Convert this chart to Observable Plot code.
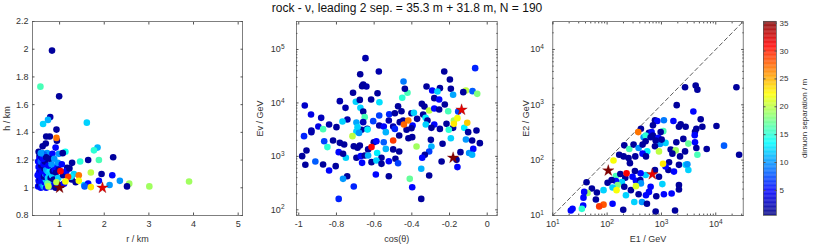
<!DOCTYPE html>
<html><head><meta charset="utf-8">
<script src="https://cdn.jsdelivr.net/npm/d3@7"></script>
<script src="https://cdn.jsdelivr.net/npm/@observablehq/plot@0.6"></script>
<style>
body{margin:0;background:#fff;}
#wrap{position:relative;width:814px;height:244px;overflow:hidden;font-family:"Liberation Sans",Arial,sans-serif;}
#wrap svg{position:absolute;top:0;}
#title{position:absolute;top:1px;left:0;width:814px;text-align:center;font-size:12px;color:#111;white-space:pre;}
</style></head><body><div id="wrap"><div id="title"></div></div>
<script>
const titleText = "rock - ν, leading 2 sep. = 35.3 m + 31.8 m, N = 190";

// panel 1: [r (km), h (km), separation (m)]
const rh = [
[0.83,1.99,1.5],[0.57,1.73,16],[0.99,1.66,1.5],[0.79,1.51,2],[0.74,1.49,11],[0.63,1.46,12],[1.61,1.47,12],[0.93,1.42,1.5],[0.70,1.37,1.5],[0.78,1.37,1.5],[0.94,1.34,1.5],[0.69,1.32,1.5],[0.91,1.29,5],[0.61,1.25,10],[0.72,1.25,10],[0.84,1.245,5],[0.985,1.245,10],[1.13,1.26,14],[1.07,1.25,1.5],[1.85,1.29,11],[1.77,1.27,15],[0.55,1.23,1.5],[1.28,1.18,1.5],[1.46,1.19,15],[1.64,1.20,1.5],[1.88,1.20,16],[2.20,1.22,1.5],[1.17,1.145,1.5],[1.32,1.10,12],[1.70,1.11,20],[1.94,1.10,1.5],[2.18,1.09,5],[2.35,1.05,10],[2.56,1.03,19],[3.01,1.01,19],[3.90,1.045,19],[2.51,1.01,1.5],[1.27,1.06,1.5],[1.36,1.04,1.5],[1.55,1.02,12],[1.64,1.03,5],[1.88,1.05,5],[2.12,1.02,10],[0.72,1.02,18],[1.56,1.01,8],
[0.52,1.01,5],[0.55,1.02,1.5],[0.58,1.00,5],[0.60,1.03,8],[0.53,1.05,5],[0.56,1.07,1.5],[0.59,1.06,5],[0.62,1.08,5],[0.51,1.09,5],[0.54,1.11,5],[0.57,1.13,1.5],[0.60,1.12,5],[0.53,1.15,5],[0.56,1.17,5],[0.59,1.16,1.5],[0.52,1.19,5],[0.55,1.21,5],[0.58,1.19,8],[0.53,1.26,1.5],[0.60,1.22,1.5],[0.64,1.01,10],[0.67,1.02,12],[0.70,1.00,5],[0.66,1.04,5],[0.69,1.06,12],[0.72,1.04,11],[0.65,1.08,1.5],[0.68,1.10,10],[0.71,1.09,5],[0.74,1.07,12],[0.63,1.12,5],[0.66,1.14,1.5],[0.70,1.13,10],[0.73,1.12,11],[0.76,1.11,12],[0.64,1.17,5],[0.67,1.19,1.5],[0.62,1.21,5],[0.65,1.24,8],[0.78,1.03,10],[0.81,1.01,5],[0.84,1.04,10],[0.80,1.07,1.5],[0.83,1.09,12],[0.87,1.06,1.5],[0.79,1.13,13],[0.85,1.12,1.5],[0.89,1.13,5],[0.92,1.11,1.5],[0.88,1.02,5],[0.91,1.00,1.5],[0.95,1.03,5],[0.97,1.07,12],[0.93,1.15,5],[0.98,1.13,1.5],[0.96,1.18,10],[0.75,1.16,5],[0.82,1.17,10],[0.77,1.21,1.5],[0.70,1.22,1.5],[0.62,1.30,1.5],[0.58,1.25,10],[0.88,1.21,10],[1.05,1.02,1.5],[1.10,1.03,5],[1.08,1.09,1.5],[1.15,1.12,5],[1.22,1.14,1.5],[1.25,1.08,13],[1.05,1.17,5],[0.73,1.03,17],[0.75,1.01,20],
[0.93,1.36,27],[1.02,1.12,31],[1.19,1.08,29],[1.43,1.09,27],[1.43,1.05,22],[1.13,1.045,22],[0.93,1.04,20],[1.70,1.005,23]
];

// panel 2: [cos(theta), Ev (GeV), separation (m)]
const cosEv = [
[-0.646,68900,2],[-0.575,38700,2],[-0.674,34500,1.5],[-0.658,22100,1.5],[-0.641,20300,2],[-0.664,20600,1.5],[-0.712,15500,1.5],[-0.582,15200,1.5],[-0.782,10800,2],[-0.697,10500,12],[-0.676,11400,1.5],[-0.616,11600,1.5],[-0.572,10300,12.5],[-0.968,8960,3],[-0.752,8090,2],[-0.673,8090,12],[-0.658,6920,1.5],[-0.935,6080,4],[-0.881,5260,2.5],[-0.650,5420,16],[-0.742,4900,2],[-0.768,4500,12],[-0.694,4310,10.5],[-0.658,4370,2.5],[-0.605,4560,7],[-0.573,5820,7],[-0.520,6160,6],[-0.490,6430,1.5],[-0.839,3950,2],[-0.896,3620,4],[-0.800,3520,1.5],[-0.573,3780,2],[-0.549,3620,5],[-0.522,4690,2],[-0.499,3620,2],[-0.871,3230,16],[-0.933,3050,2],[-0.637,3270,2],[-0.667,3140,1.5],
[-0.064,44800,6],[-0.228,38700,1.5],[-0.198,27500,1.5],[-0.444,25200,9],[-0.322,20300,1.5],[-0.251,18900,1.5],[-0.292,17100,5],[-0.264,16400,12],[-0.193,18400,1.5],[-0.423,15500,16],[-0.437,18400,1.5],[-0.113,17100,20],[-0.127,15900,1.5],[-0.078,16600,8],[-0.053,14800,18],[-0.181,14200,10.5],[-0.451,12500,15],[-0.281,12300,1.5],[-0.255,11600,5],[-0.225,9350,1.5],[-0.347,9620,1.5],[-0.333,8570,1.5],[-0.473,8690,1.5],[-0.455,7010,1.5],[-0.308,7210,20],[-0.281,7870,5],[-0.255,7540,1.5],[-0.207,7010,16],[-0.154,6920,7],[-0.402,6430,1.5],[-0.389,6530,12],[-0.372,5040,1.5],[-0.340,6080,1.5],[-0.327,5260,13],[-0.317,4690,1.5],[-0.446,4690,1.5],[-0.464,4370,1.5],[-0.396,3780,5],[-0.177,4690,19],[-0.216,4060,1.5],[-0.281,3950,5],[-0.326,3950,12],[-0.296,3420,1.5],[-0.251,3270,1.5],[-0.181,3420,1.5],[-0.122,3420,13],[-0.057,3050,1.5],[-0.204,3140,15],
[-0.933,2840,2],[-0.972,2390,6],[-0.688,3520,12],[-0.694,2920,12],[-0.680,2750,10],[-0.635,3180,13],[-0.538,2840,11],[-0.490,3270,6],[-0.865,1920,7],[-0.848,1490,15],[-0.818,1980,1.5],[-0.782,1790,1.5],[-0.759,1670,1.5],[-0.708,1550,1.5],[-0.688,1450,1.5],[-0.676,1600,1.5],[-0.602,1840,1.5],[-0.588,1920,5],[-0.632,1350,1.5],[-0.549,1840,8],[-0.538,1380,11],[-0.499,1350,1.5],[-0.959,1290,1.5],[-0.982,1010,1.5],[-0.788,1200,5],[-0.750,940,12],[-0.765,1120,1.5],[-0.694,940,1.5],[-0.671,1010,5],[-0.650,1040,1.5],[-0.632,1040,11],[-0.584,1160,13],[-0.561,940,1.5],[-0.664,757,5],[-0.614,780,1.5],[-0.588,840,12],[-0.561,725,1.5],[-0.522,813,5],[-0.487,900,1.5],[-0.912,802,8],[-0.965,695,1.5],[-0.871,705,1.5],[-0.804,656,1.5],[-0.839,545,5],[-0.743,426,1.5],[-0.765,380,10],[-0.591,458,5],[-0.522,426,1.5],[-0.708,273,6],[-0.788,160,6],
[-0.428,3140,1.5],[-0.402,3370,1.5],[-0.467,2460,1.5],[-0.418,2190,1.5],[-0.398,2290,1.5],[-0.299,2040,1.5],[-0.101,2840,1.5],[-0.193,2190,12],[-0.113,2070,10],[-0.080,1980,1.5],[-0.039,1770,1.5],[-0.237,1720,1.5],[-0.375,1530,19],[-0.296,1530,11],[-0.467,1230,1.5],[-0.308,1230,7],[-0.331,1070,1.5],[-0.345,940,5],[-0.142,1200,1.5],[-0.096,1160,10],[-0.074,1380,5],[-0.080,1070,11],[-0.163,861,1.5],[-0.242,802,1.5],[-0.473,746,7],[-0.158,630,5],[-0.350,585,11],[-0.308,440,1.5],[-0.411,380,17],[-0.398,265,5],[-0.350,160,1.5],
[-0.715,2390,20],[-0.419,4690,26.5],[-0.442,3950,27.5],[-0.158,5190,22],[-0.177,4060,23],[-0.106,4250,24],[-0.499,1980,29],[-0.614,1490,31]
];

// panel 3: [E1 (GeV), E2 (GeV), separation (m)]
const e1e2 = [
[2720,2080,1.5],[4270,2230,1.5],[4590,1880,1.5],[24000,2080,1.5],[1910,986,1.5],[3870,755,5],
[760,525,1.5],[839,509,5],[1110,525,9],[1660,509,5],[698,425,1.5],[2260,443,1.5],[2100,402,1.5],[2790,402,1.5],[5280,547,1.5],[5670,402,1.5],[4390,369,1.5],[4150,325,1.5],[10300,413,1.5],[4100,283,5],
[419,369,1.5],[470,260,10],[589,312,1.5],[659,321,5],[698,279,1.5],[1080,334,16],[967,321,1.5],[512,279,15],
[875,253,5],[1190,205,12],[940,196,10],[1880,210,1.5],[2530,242,1.5],[3130,199,17],[4150,210,5],[4390,166,1.5],[6810,159,1.5],[14200,183,8],
[207,185,1.5],[256,159,16],[307,191,1.5],[380,166,10],[450,191,1.5],[512,219,1.5],[632,260,1.5],[782,226,1.5],[1010,235,1.5],
[548,144,13],[760,178,1.5],[901,144,20],[1480,155,1.5],[1830,150,19],[1590,131,1.5],[2200,117,1.5],[2720,144,1.5],[4590,125,16],[26900,125,1.5],
[167,125,1.5],[201,117,1.5],[248,109,1.5],[330,117,1.5],[450,131,5],[519,117,1.5],[263,88.2,1.5],
[1380,91.9,1.5],[2100,82.2,1.5],[2790,82.2,12],[3130,66.5,12],[1340,66.5,1.5],[1190,76.6,5],[3000,84.5,10],
[512,53.9,12],[901,50.2,1.5],[413,57.8,5],[325,63.8,1.5],
[145,51.6,16],[175,56.2,1.5],[294,50.2,5],[216,48.2,1.5],[187,40.2,12],[145,41.9,5],[339,42.5,5],[408,43.7,1.5],[419,38.0,10],[156,35.4,18],[121,43.7,1.5],[102,39.0,1.5],
[126,32.1,12],[207,33.0,1.5],[222,23.2,12],[274,28.7,1.5],[380,24.2,1.5],[316,17.5,12],[438,17.5,10],[541,16.3,1.5],[519,23.2,5],
[1040,36.9,12],[2100,35.4,1.5],[2100,29.5,1.5],[1540,24.9,5],[1110,24.2,5],[804,22.3,1.5],[589,26.7,5],[632,33.0,5],[782,11.8,1.5],[1780,12.3,1.5],[198,12.7,1.5],
[41.8,40,1.5],[52.4,30.8,1.5],[64.8,26.0,1.5],[85.9,28.7,12],[43.6,25.6,19],[37.8,26.7,5],[36.7,21.0,5],[36.2,15.2,5],[34.3,13.2,15],[62.1,19.4,1.5],[126,16.3,5],[23.1,13.2,5],[21.5,12.3,5],
[760,66.5,1.5],[1700,62.1,5],
[374,321,27],[131,98.6,22],[1070,85.7,23],[228,57.8,31],[339,33.9,21],[149,28.7,22],[85.9,15.7,28],[71.5,14.6,29]
];

// the two leading-separation events (stars)
const starRH  = [[1.0,1.0,35.3],[1.96,1.0,31.8]];
const starCos = [[-0.181,940,35.3],[-0.136,7430,31.8]];
const starE   = [[105,64.7,35.3],[679,55.5,31.8]];

// axes / ticks
const sepDomain = [0.5, 35.3];
const sepTicks = [5,10,15,20,25,30,35];
const rTicks = [1,2,3,4,5];
const hTicks = [0.8,1,1.2,1.4,1.6,1.8,2,2.2];
const cosTicks = [-1,-0.8,-0.6,-0.4,-0.2,0];
const evTicks = [1e2,1e3,1e4,1e5];
const eTicks = [1e1,1e2,1e3,1e4];
const diagE = [10, 32000];
const minorOf = (lo, hi) => [1,2,3,4,5].flatMap(k => [2,3,4,5,6,7,8,9].map(m => m * 10 ** k)).filter(v => v > lo && v < hi);

function jet(t) {
  const c = x => Math.max(0, Math.min(1, x));
  const r = c(1.5 - Math.abs(4 * t - 3)), g = c(1.5 - Math.abs(4 * t - 2)), b = c(1.5 - Math.abs(4 * t - 1));
  return `rgb(${Math.round(r * 255)},${Math.round(g * 255)},${Math.round(b * 255)})`;
}
const colorOpt = {type: "linear", domain: sepDomain, interpolate: jet};
const style = {fontFamily: "'Liberation Sans', Arial, sans-serif", fontSize: "9px", color: "#333", background: "transparent", overflow: "visible"};
const fmtNum = d => String(d);
const fmtLog = d => "10^" + Math.round(Math.log10(d));
const blank = () => "";
const TK = -2.5, TKm = -1.4;

function boxAxes(o) {
  const m = [
    Plot.frame({stroke: "#555", strokeWidth: 0.75}),
    Plot.axisX({ticks: o.xt, anchor: "bottom", tickSize: 0, tickPadding: 5, tickFormat: o.xf, label: o.xl, labelAnchor: "center", labelArrow: "none"}),
    Plot.axisY({ticks: o.yt, anchor: "left", tickSize: 0, tickPadding: o.yp, tickFormat: o.yf, label: o.yl, labelAnchor: "center", labelArrow: "none", labelOffset: o.ylo}),
  ];
  for (const a of ["bottom", "top"]) {
    m.push(Plot.axisX({ticks: o.xt, anchor: a, tickSize: TK, tickFormat: blank, label: null, stroke: "#555"}));
    if (o.xm) m.push(Plot.axisX({ticks: o.xm, anchor: a, tickSize: TKm, tickFormat: blank, label: null, stroke: "#555"}));
  }
  for (const a of ["left", "right"]) {
    m.push(Plot.axisY({ticks: o.yt, anchor: a, tickSize: TK, tickFormat: blank, label: null, stroke: "#555"}));
    if (o.ym) m.push(Plot.axisY({ticks: o.ym, anchor: a, tickSize: TKm, tickFormat: blank, label: null, stroke: "#555"}));
  }
  return m;
}
function supTicks(svg) {
  d3.select(svg).selectAll("text").each(function () {
    const m = /^10\^(\d)$/.exec(this.textContent);
    if (m) {
      const el = d3.select(this);
      el.text("10");
      el.append("tspan").attr("dy", "-0.5em").attr("font-size", "6.5px").text(m[1]);
    }
  });
  return svg;
}
const dotsOf = (data) => Plot.dot(data, {x: d => d[0], y: d => d[1], fill: d => d[2], r: 3.3});
const starsOf = (data) => Plot.dot(data, {x: d => d[0], y: d => d[1], fill: d => d[2], symbol: "star", r: 3.6, stroke: "#700", strokeWidth: 0.3});

const wrap = document.getElementById("wrap");
document.getElementById("title").textContent = titleText;
function place(svg, left) { svg.style.left = left + "px"; wrap.appendChild(svg); }

// panel 1
place(Plot.plot({
  width: 265, height: 244, marginLeft: 32, marginRight: 23, marginTop: 21, marginBottom: 29, style,
  x: {type: "linear", domain: [0.393, 5.097]}, y: {type: "linear", domain: [0.8, 2.2]}, color: colorOpt,
  marks: [dotsOf(rh), starsOf(starRH), ...boxAxes({xt: rTicks, yt: hTicks, xf: fmtNum, yf: fmtNum, xl: "r / km", yl: "h / km", yp: 4, ylo: 29})]
}), 0);

// panel 2
place(supTicks(Plot.plot({
  width: 265, height: 244, marginLeft: 46, marginRight: 18.3, marginTop: 21, marginBottom: 29, style,
  x: {type: "linear", domain: [-1.012, 0.053]}, y: {type: "log", domain: [78.3, 334000]}, color: colorOpt,
  marks: [dotsOf(cosEv), starsOf(starCos), ...boxAxes({xt: cosTicks, yt: evTicks, ym: minorOf(78.3, 334000), xf: fmtNum, yf: fmtLog, xl: "cos(θ)", yl: "Ev / GeV", yp: 12, ylo: 40})]
})), 250);

// panel 3
place(supTicks(Plot.plot({
  width: 235, height: 244, marginLeft: 37.3, marginRight: 7.3, marginTop: 21, marginBottom: 29, style,
  x: {type: "log", domain: [10, 32000]}, y: {type: "log", domain: [10, 32000]}, color: colorOpt,
  marks: [
    Plot.line(diagE, {x: d => d, y: d => d, stroke: "#333", strokeWidth: 0.8, strokeDasharray: "4,3"}),
    dotsOf(e1e2), starsOf(starE),
    ...boxAxes({xt: eTicks, yt: eTicks, xm: minorOf(10, 32000), ym: minorOf(10, 32000), xf: fmtLog, yf: fmtLog, xl: "E1 / GeV", yl: "E2 / GeV", yp: 9, ylo: 30})
  ]
})), 515);

// colorbar
const cbN = 240, cbStep = (sepDomain[1] - sepDomain[0]) / cbN;
const cbLevels = d3.range(cbN).map(i => sepDomain[0] + i * cbStep);
place(Plot.plot({
  width: 64, height: 244, marginLeft: 13, marginRight: 38, marginTop: 21, marginBottom: 29, style,
  x: {domain: [0, 1], axis: null}, y: {type: "linear", domain: sepDomain, axis: null}, color: colorOpt,
  marks: [
    Plot.rect(cbLevels, {x1: 0, x2: 1, y1: d => d, y2: d => d + cbStep * 1.05, fill: d => d + cbStep / 2}),
    Plot.frame({stroke: "#555", strokeWidth: 0.75}),
    Plot.axisY({ticks: sepTicks, anchor: "right", tickSize: 0, tickPadding: 3, tickFormat: fmtNum, label: "dimuon separation / m", labelAnchor: "center", labelArrow: "none", labelOffset: 30, fontSize: 8}),
    Plot.axisY({ticks: sepTicks, anchor: "right", tickSize: TK, tickFormat: blank, label: null, stroke: "#555"}),
    Plot.axisY({ticks: sepTicks, anchor: "left", tickSize: TK, tickFormat: blank, label: null, stroke: "#555"})
  ]
}), 750);
</script></body></html>
